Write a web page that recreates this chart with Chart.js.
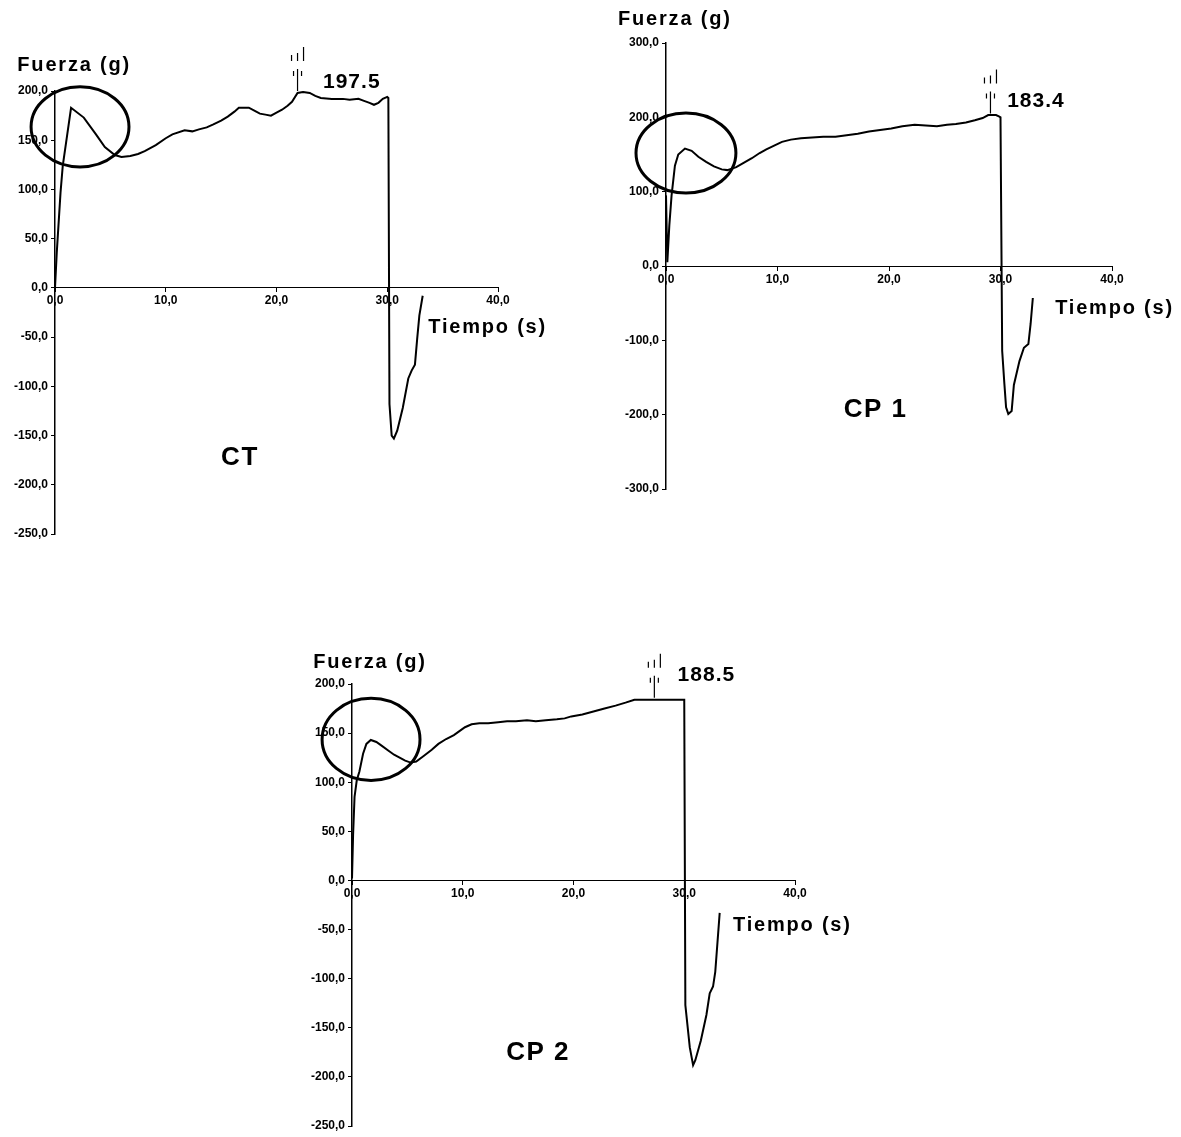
<!DOCTYPE html>
<html>

<head>
    <meta charset="utf-8">
    <script src="https://cdn.jsdelivr.net/npm/chart.js@4.4.0/dist/chart.umd.min.js"></script>
    <style>
        body { margin: 0; background: #fff; }
        #wrap { position: relative; width: 1181px; height: 1137px; }
        #wrap canvas { position: absolute; left: 0; top: 0; }
    </style>
</head>

<body>
    <div id="wrap">
        <canvas id="chartCT" width="1181" height="1137"></canvas>
        <canvas id="chartCP1" width="1181" height="1137"></canvas>
        <canvas id="chartCP2" width="1181" height="1137"></canvas>
    </div>
    <script>
        // x axis (Tiempo, s)
        const xMin = 0, xMax = 40, xStep = 10;

        // CT
        const ctTime = [0, 0.16, 0.5, 0.7, 1.45, 2.6, 3.7, 4.5, 5.4, 6.0, 6.8, 7.5, 8.1, 9.1, 10.0, 10.6, 11.7, 12.4, 13.0, 13.7,
            14.3, 15.0, 15.6, 16.2, 16.6, 17.5, 18.0, 18.5, 19.0, 19.5, 20.0, 20.5, 21.0, 21.4, 21.9, 22.4, 23.0, 23.5, 24.0, 25.0,
            26.0, 26.6, 27.4, 27.9, 28.4, 28.8, 29.2, 29.6, 30.0, 30.1, 30.2, 30.4, 30.6, 30.9, 31.4, 31.9, 32.2, 32.5, 32.7, 32.9, 33.2];
        const ctForce = [0, 36, 97, 124, 183, 173, 156, 143, 135, 133, 134, 136, 139, 145, 152, 156, 160, 159, 161, 163,
            166, 170, 174, 179, 183, 183, 180, 177, 176, 175, 178, 181, 185, 189, 198, 199, 198, 195, 193, 192,
            192, 191, 192, 190, 188, 186, 188, 192, 194, 193, -118, -150, -153, -145, -122, -92, -84, -78, -52, -28, -8];
        const ctY = [-250, 200, 50];

        // CP 1
        const cp1Time = [0, 0.12, 0.3, 0.5, 0.8, 1.1, 1.7, 2.3, 2.9, 3.6, 4.3, 5.0, 5.5, 6.3, 7.0, 7.7, 8.4, 9.0, 9.7, 10.4,
            11.2, 12.1, 13.1, 14.1, 15.2, 16.2, 17.2, 18.2, 19.2, 20.2, 21.2, 22.3, 23.3, 24.3, 25.2, 26.0, 26.9, 27.7, 28.4, 28.9,
            29.6, 29.9, 30.0, 30.15, 30.35, 30.5, 30.7, 31.0, 31.2, 31.7, 32.1, 32.5, 32.7, 32.9];
        const cp1Force = [95, 5, 55, 95, 135, 150, 158, 155, 147, 140, 134, 130, 129, 133, 139, 145, 152, 157, 162, 167,
            170, 172, 173, 174, 174, 176, 178, 181, 183, 185, 188, 190, 189, 188, 190, 191, 193, 196, 199, 203,
            203, 201, 200, -114, -159, -190, -199, -195, -160, -128, -110, -105, -78, -43];
        const cp1Y = [-300, 300, 100];

        // CP 2
        const cp2Time = [0, 0.1, 0.23, 0.43, 0.67, 1.0, 1.3, 1.7, 2.2, 2.7, 3.3, 3.8, 4.3, 4.8, 5.3, 5.8, 6.5, 7.2, 7.8, 8.5,
            9.2, 9.7, 10.2, 10.8, 11.5, 12.3, 13.2, 14.0, 14.8, 15.8, 16.6, 17.5, 18.5, 19.2, 19.8, 20.8, 21.8, 22.8, 23.8, 24.7,
            25.5, 26.5, 27.8, 29.0, 30.0, 30.1, 30.5, 30.8, 31.0, 31.5, 32.0, 32.3, 32.6, 32.8, 33.0, 33.2];
        const cp2Force = [2, 47, 85, 102, 111, 129, 139, 143, 141, 137, 132, 128, 125, 122, 120, 121, 127, 133, 139, 144,
            148, 152, 156, 159, 160, 160, 161, 162, 162, 163, 162, 163, 164, 165, 167, 169, 172, 175, 178, 181,
            184, 184, 184, 184, 184, -127, -170, -188, -183, -163, -137, -115, -108, -93, -63, -33];
        const cp2Y = [-250, 200, 50];

        const peakLabels = ['197.5', '183.4', '188.5'];
        const chartNames = ['CT', 'CP 1', 'CP 2'];
        const yTitle = 'Fuerza (g)';
        const xTitle = 'Tiempo (s)';

        const tickFont = { family: 'Liberation Sans', size: 12, weight: 'bold' };

        function fmt(v) {
            return Number(v).toFixed(1).replace('.', ',');
        }

        // extra texts, ellipse and peak marker, placed in data units
        function notesPlugin(n) {
            return {
                id: 'notes',
                afterDraw(chart) {
                    const ctx = chart.ctx;
                    const x = chart.scales.x, y = chart.scales.y;
                    ctx.save();
                    ctx.fillStyle = '#000';
                    ctx.strokeStyle = '#000';
                    ctx.textBaseline = 'middle';

                    ctx.font = 'bold 20px "Liberation Sans"';
                    ctx.letterSpacing = '1.8px';
                    ctx.textAlign = 'left';
                    ctx.fillText(yTitle, x.getPixelForValue(n.yTitle[0]), y.getPixelForValue(n.yTitle[1]));
                    ctx.fillText(xTitle, x.getPixelForValue(n.xTitle[0]), y.getPixelForValue(n.xTitle[1]));

                    ctx.font = 'bold 21px "Liberation Sans"';
                    ctx.letterSpacing = '1px';
                    ctx.fillText(n.peak, x.getPixelForValue(n.peakAt[0]), y.getPixelForValue(n.peakAt[1]));

                    ctx.font = 'bold 26px "Liberation Sans"';
                    ctx.letterSpacing = '1.5px';
                    ctx.textAlign = 'center';
                    ctx.fillText(n.name, x.getPixelForValue(n.nameAt[0]), y.getPixelForValue(n.nameAt[1]));

                    // ellipse
                    const cx = x.getPixelForValue(n.ring[0]), cy = y.getPixelForValue(n.ring[1]);
                    const rx = Math.abs(x.getPixelForValue(n.ring[0] + n.ring[2]) - cx);
                    const ry = Math.abs(y.getPixelForValue(n.ring[1] + n.ring[3]) - cy);
                    ctx.lineWidth = 3;
                    ctx.beginPath();
                    ctx.ellipse(cx, cy, rx, ry, 0, 0, Math.PI * 2);
                    ctx.stroke();

                    // peak marker
                    const mx = x.getPixelForValue(n.marker[0]), my = y.getPixelForValue(n.marker[1]);
                    ctx.lineWidth = 1.2;
                    ctx.beginPath();
                    ctx.moveTo(mx, my); ctx.lineTo(mx, my - 22);
                    ctx.moveTo(mx - 4, my - 20); ctx.lineTo(mx - 4, my - 15);
                    ctx.moveTo(mx + 4, my - 20); ctx.lineTo(mx + 4, my - 15);
                    ctx.moveTo(mx - 6, my - 36); ctx.lineTo(mx - 6, my - 30);
                    ctx.moveTo(mx, my - 38); ctx.lineTo(mx, my - 30);
                    ctx.moveTo(mx + 6, my - 44); ctx.lineTo(mx + 6, my - 30);
                    ctx.stroke();
                    ctx.restore();
                }
            };
        }

        function buildChart(id, time, force, yRange, pad, notes) {
            const points = time.map((t, i) => ({ x: t, y: force[i] }));
            return new Chart(document.getElementById(id), {
                type: 'line',
                data: {
                    datasets: [{
                        data: points,
                        borderColor: '#000',
                        borderWidth: 2,
                        pointRadius: 0,
                        tension: 0,
                        fill: false
                    }]
                },
                options: {
                    responsive: false,
                    animation: false,
                    events: [],
                    layout: { padding: pad },
                    plugins: {
                        legend: { display: false },
                        tooltip: { enabled: false }
                    },
                    scales: {
                        x: {
                            type: 'linear',
                            min: xMin,
                            max: xMax,
                            position: { y: 0 },
                            ticks: { stepSize: xStep, callback: fmt, font: tickFont, color: '#000', padding: 2, maxRotation: 0 },
                            grid: { drawOnChartArea: false, drawTicks: true, tickLength: 4, color: '#000' },
                            border: { color: '#000', width: 1, dash: [1, 2] }
                        },
                        y: {
                            type: 'linear',
                            min: yRange[0],
                            max: yRange[1],
                            position: 'left',
                            ticks: { stepSize: yRange[2], callback: fmt, font: tickFont, color: '#000', padding: 3 },
                            grid: { drawOnChartArea: false, drawTicks: true, tickLength: 4, color: '#000' },
                            border: { color: '#000', width: 1.5 },
                            afterFit: (s) => { s.width = 52; }
                        }
                    }
                },
                plugins: [notesPlugin(notes)]
            });
        }

        buildChart('chartCT', ctTime, ctForce, ctY,
            { left: 3, top: 91, right: 683, bottom: 603 },
            { yTitle: [-3.4, 225.6], xTitle: [33.7, -40.7], peak: peakLabels[0], peakAt: [24.2, 209.3],
              name: chartNames[0], nameAt: [16.7, -172.8], ring: [2.26, 163.6, 4.42, 40.7], marker: [21.9, 200] });

        buildChart('chartCP1', cp1Time, cp1Force, cp1Y,
            { left: 614, top: 43, right: 69, bottom: 648 },
            { yTitle: [-4.3, 331], xTitle: [34.9, -56.5], peak: peakLabels[1], peakAt: [30.6, 222],
              name: chartNames[1], nameAt: [18.8, -193.8], ring: [1.79, 152, 4.48, 53.8], marker: [29.1, 205] });

        buildChart('chartCP2', cp2Time, cp2Force, cp2Y,
            { left: 300, top: 684, right: 386, bottom: 11 },
            { yTitle: [-3.5, 222], xTitle: [34.4, -45.8], peak: peakLabels[2], peakAt: [29.4, 208.8],
              name: chartNames[2], nameAt: [16.8, -175], ring: [1.72, 143.6, 4.42, 41.8], marker: [27.3, 186] });
    </script>
</body>

</html>
